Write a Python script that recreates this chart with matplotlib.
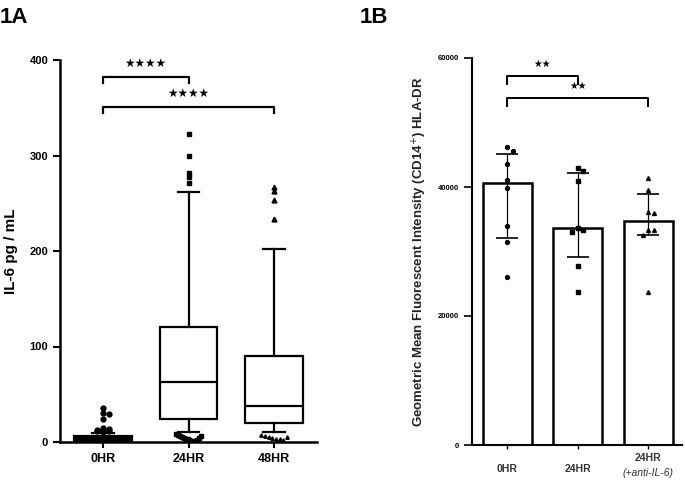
import numpy as np
import matplotlib
matplotlib.use("Agg")
import matplotlib.pyplot as plt

plt.rcParams['font.family'] = ['Liberation Sans', 'DejaVu Sans']

# ---- panel A data (IL-6 pg/mL, box stats)
groups_a = ["0HR", "24HR", "48HR"]
whislo = [0, 10, 10]
q1 = [0.5, 24, 20]
med = [3, 63, 38]
q3 = [6, 120, 90]
whishi = [9, 262, 202]
out_hi = [[36, 30, 29, 24, 15, 14, 13, 13, 12, 11, 10],
          [322, 300, 282, 278, 271],
          [267, 263, 253, 234]]
out_lo = [[],
          [8, 7, 6, 5, 4, 3, 3, 2, 1, 1, 0, 2, 4, 6],
          [7, 6, 5, 4, 3, 3, 2, 5]]
markers_a = ["o", "s", "^"]
sig_a = [(0, 1, 382, "★★★★"), (0, 2, 351, "★★★★")]

# ---- panel B data (HLA-DR geometric MFI)
groups_b = ["0HR", "24HR", "24HR"]
bar_b = [40600, 33600, 34700]
err_hi = [45100, 42100, 38900]
err_lo = [32100, 29100, 32500]
pts_b = [[46200, 45600, 43600, 41100, 39800, 34000, 31400, 26000],
         [43000, 42500, 40900, 33700, 33300, 33000, 27700, 23700],
         [41400, 39500, 36200, 36000, 33400, 33300, 32600, 23700]]
markers_b = ["o", "s", "^"]
sig_b = [(0, 1, 57200, "★★"), (0, 2, 53800, "★★")]

fig = plt.figure(figsize=(6.85, 4.82), dpi=100)

# ---------------- 1A
ax = fig.add_axes([60/685, 40/482, 257/685, 382/482])
stats = []
for i in range(3):
    stats.append(dict(whislo=whislo[i], q1=q1[i], med=med[i], q3=q3[i],
                      whishi=whishi[i], fliers=[]))
bp = ax.bxp(stats, positions=range(3), widths=0.67, capwidths=0.25,
            patch_artist=True, showfliers=False,
            boxprops=dict(lw=1.6, edgecolor="black", facecolor="white"),
            medianprops=dict(color="black", lw=1.6),
            whiskerprops=dict(lw=1.6), capprops=dict(lw=1.6))
bp["boxes"][0].set_facecolor("black")
for i in range(3):
    hi = np.array(out_hi[i])
    xs = np.zeros(len(hi))
    # nudge neighbours apart
    for k in range(1, len(hi)):
        if abs(hi[k] - hi[k-1]) < 4:
            xs[k] = xs[k-1] + 0.07 if xs[k-1] <= 0 else -0.07
    ax.plot(i + xs, hi, ls="none", marker=markers_a[i], ms=3.5, color="black")
    lo = np.array(out_lo[i])
    if len(lo):
        ax.plot(i + np.linspace(-0.15, 0.15, len(lo)), lo, ls="none",
                marker=markers_a[i], ms=2.5, color="black")
for a, b, y, s in sig_a:
    ax.plot([a, a, b, b], [y - 6, y, y, y - 6], color="black", lw=1.6)
    ax.text((a + b) / 2, y + 14, s, ha="center", va="center",
            fontsize=8.5, family="DejaVu Sans")
ax.set_xlim(-0.5, 2.5)
ax.set_ylim(0, 400)
ax.set_yticks([0, 100, 200, 300, 400])
ax.set_xticks(range(3))
ax.set_xticklabels(groups_a)
ax.spines[["top", "right"]].set_visible(False)
ax.spines[["left", "bottom"]].set_linewidth(1.8)
ax.tick_params(axis="y", length=5, width=1.5, labelsize=8)
ax.tick_params(axis="x", length=4, width=1.5, labelsize=9, pad=4)
for t in ax.get_xticklabels() + ax.get_yticklabels():
    t.set_fontweight("bold")
ax.set_ylabel("IL-6 pg / mL", fontsize=11, fontweight="bold", labelpad=8)
fig.text(0.0, 0.985, "1A", fontsize=16, fontweight="bold", va="top")

# ---------------- 1B
bx = fig.add_axes([472/685, 37/482, 210/685, 387/482])
xb = np.arange(3)
bx.bar(xb, bar_b, width=0.7, color="white", edgecolor="black", lw=1.8)
yerr = [np.array(bar_b) - np.array(err_lo), np.array(err_hi) - np.array(bar_b)]
bx.errorbar(xb, bar_b, yerr=yerr, fmt="none", ecolor="black", elinewidth=0.9,
            capsize=8, capthick=1.2)
for i in range(3):
    p = np.array(pts_b[i])
    xs = np.zeros(len(p))
    for k in range(1, len(p)):
        if abs(p[k] - p[k-1]) < 900:
            xs[k] = 0.08 if xs[k-1] <= 0 else -0.08
    bx.plot(i + xs, p, ls="none", marker=markers_b[i], ms=2.8, color="black")
for a, b, y, s in sig_b:
    bx.plot([a, a, b, b], [y - 1300, y, y, y - 1300], color="black", lw=1.4)
    bx.text((a + b) / 2, y + 1800, s, ha="center", va="center",
            fontsize=7, family="DejaVu Sans")
bx.set_xlim(-0.5, 2.48)
bx.set_ylim(0, 60000)
bx.set_yticks([0, 20000, 40000, 60000])
bx.set_xticks(xb)
bx.set_xticklabels([groups_b[0], groups_b[1], ""])
bx.text(2, -0.02, groups_b[2], transform=bx.get_xaxis_transform(),
        ha="center", va="top", fontsize=7.5, fontweight="bold", color="#333")
bx.text(2, -0.06, "(+anti-IL-6)", transform=bx.get_xaxis_transform(),
        ha="center", va="top", fontsize=7.5, fontstyle="italic", color="#333")
bx.spines[["top", "right"]].set_visible(False)
bx.spines[["left", "bottom"]].set_linewidth(1.5)
bx.tick_params(axis="y", length=6, width=1.2, labelsize=5.5)
bx.tick_params(axis="x", length=3, width=1.0, labelsize=7.5, pad=11)
for t in bx.get_xticklabels():
    t.set_fontweight("bold")
    t.set_color("#333")
for t in bx.get_yticklabels():
    t.set_fontweight("bold")
bx.set_ylabel("Geometric Mean Fluorescent Intensity (CD14$^{+}$) HLA-DR",
              fontsize=9.5, fontweight="bold", labelpad=6, color="#222")
fig.text(360/685, 0.985, "1B", fontsize=16, fontweight="bold", va="top")

fig.savefig("out.png", dpi=100)
